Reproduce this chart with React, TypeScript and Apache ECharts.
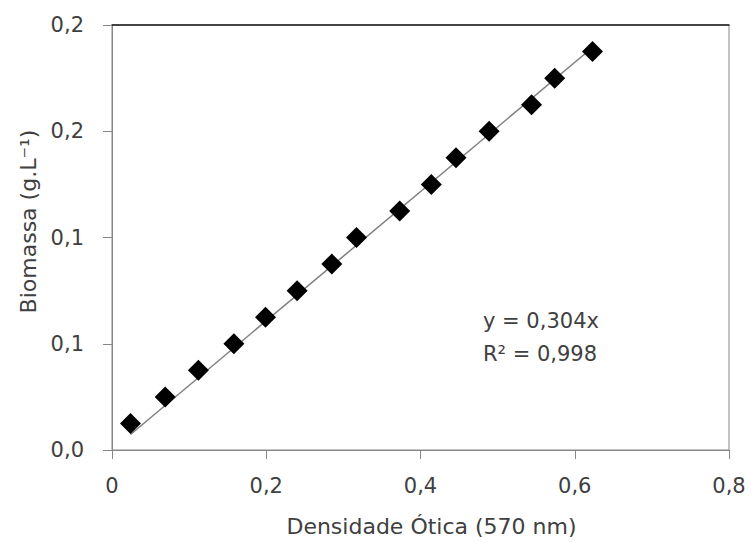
import React, { useEffect, useRef } from "react";
import * as echarts from "echarts";

const xValues = [0.024, 0.069, 0.112, 0.158, 0.199, 0.240, 0.285, 0.317, 0.373, 0.414, 0.446, 0.489, 0.544, 0.574, 0.623];
const yValues = [0.0125, 0.025, 0.0375, 0.05, 0.0625, 0.075, 0.0875, 0.1, 0.1125, 0.125, 0.1375, 0.15, 0.1625, 0.175, 0.1875];
const trendSlope = 0.304;
const trendX = [0.024, 0.623];
const xTickLabels = ["0", "0,2", "0,4", "0,6", "0,8"];
const yTickLabels = ["0,0", "0,1", "0,1", "0,2", "0,2"];
const equationLines = ["y = 0,304x", "R² = 0,998"];
const xTitle = "Densidade Ótica (570 nm)";
const yTitle = "Biomassa (g.L⁻¹)";

const FONT = "DejaVu Sans";
const TEXT = "#404040";
const AXIS = "#868686";

export default function App() {
  const ref = useRef<HTMLDivElement>(null);
  useEffect(() => {
    document.body.style.margin = "0";
    const chart = echarts.init(ref.current!, undefined, { renderer: "svg" });
    const points = xValues.map((x, i) => [x, yValues[i]]);
    const trend = trendX.map((x) => [x, x * trendSlope]);
    chart.setOption({
      animation: false,
      backgroundColor: "#ffffff",
      textStyle: { fontFamily: FONT },
      grid: { left: 112, right: 22, top: 25, bottom: 89, show: true, borderColor: AXIS, borderWidth: 1 },
      xAxis: [
        {
          type: "value",
          min: 0,
          max: 0.8,
          interval: 0.2,
          position: "bottom",
          splitLine: { show: false },
          axisLine: { show: true, lineStyle: { color: AXIS, width: 1 } },
          axisTick: { show: true, inside: false, length: 9, lineStyle: { color: AXIS } },
          axisLabel: {
            margin: 25,
            color: TEXT,
            fontSize: 21,
            fontFamily: FONT,
            formatter: (v: number) => xTickLabels[Math.round(v / 0.2)] ?? "",
          },
          name: xTitle,
          nameLocation: "middle",
          nameGap: 65,
          nameTextStyle: { color: TEXT, fontSize: 22, fontFamily: FONT, padding: [0, 0, 0, 22] },
        },
        {
          type: "value",
          min: 0,
          max: 0.8,
          position: "top",
          axisLine: { show: true, lineStyle: { color: "#1a1a1a", width: 1.5 } },
          axisTick: { show: false },
          axisLabel: { show: false },
          splitLine: { show: false },
        },
      ],
      yAxis: {
        type: "value",
        min: 0,
        max: 0.2,
        interval: 0.05,
        splitLine: { show: false },
        axisLine: { show: true, lineStyle: { color: AXIS, width: 1 } },
        axisTick: { show: true, inside: false, length: 9, lineStyle: { color: AXIS } },
        axisLabel: {
          margin: 28,
          color: TEXT,
          fontSize: 21,
          fontFamily: FONT,
          formatter: (v: number) => yTickLabels[Math.round(v / 0.05)] ?? "",
        },
        name: yTitle,
        nameLocation: "middle",
        nameGap: 69,
        nameRotate: 90,
        nameTextStyle: { color: TEXT, fontSize: 22, fontFamily: FONT, padding: [0, 0, 0, 32] },
      },
      graphic: [
        {
          type: "text",
          left: 483,
          top: 304,
          style: { text: equationLines.join("\n"), fill: TEXT, font: `21px ${FONT}`, lineHeight: 33 },
        },
      ],
      series: [
        {
          type: "line",
          data: trend,
          showSymbol: false,
          symbol: "none",
          lineStyle: { color: "#7f7f7f", width: 1.5 },
          silent: true,
          z: 1,
        },
        {
          type: "scatter",
          data: points,
          symbol: "diamond",
          symbolSize: 21,
          itemStyle: { color: "#000000", opacity: 1 },
          z: 2,
        },
      ],
    });
    return () => chart.dispose();
  }, []);
  return <div ref={ref} style={{ width: 751, height: 542 }} />;
}
